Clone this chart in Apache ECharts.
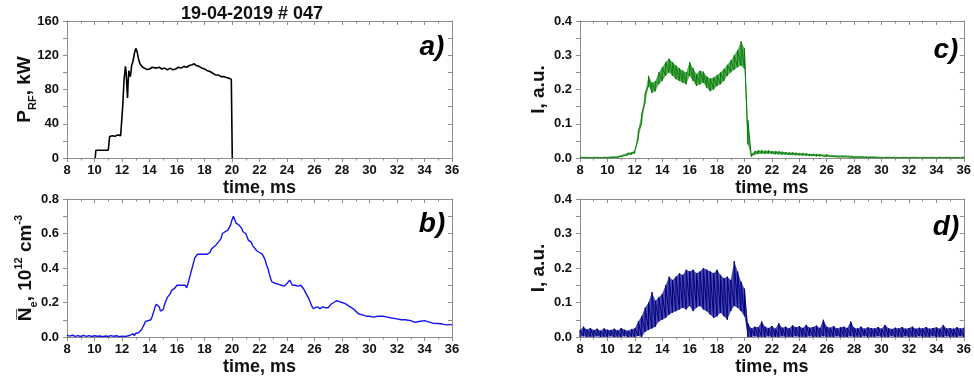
<!DOCTYPE html>
<html><head><meta charset="utf-8">
<script src="https://cdn.jsdelivr.net/npm/echarts@6.0.0/dist/echarts.min.js"></script>
<style>html,body{margin:0;padding:0;background:#fff}#chart{width:974px;height:383px}</style>
</head><body><div id="chart"></div>
<script>
// ---------- DATA ----------
const shotTitle = '19-04-2019 # 047';
const panelLetters = ['a)', 'b)', 'c)', 'd)'];
const timeRange = [8, 36];
const timeStep = 2;

// a) RF power, kW
const timeA = [10.05,10.1,10.5,11.0,11.05,11.1,11.3,11.5,11.7,11.9,12.0,12.05,12.15,12.25,12.3,12.35,12.4,12.45,12.5,12.55,12.6,12.65,12.7,12.8,12.9,13.0,13.05,13.1,13.2,13.3,13.4,13.5,13.6,13.8,14.0,14.2,14.3,14.5,14.7,14.9,15.1,15.3,15.5,15.7,15.9,16.1,16.3,16.5,16.7,16.9,17.1,17.25,17.4,17.6,17.8,18.0,18.2,18.4,18.6,18.8,19.0,19.2,19.4,19.6,19.8,19.95,20.0,20.02];
const powerA = [0,9,9,9,9.5,25,26,25.5,27,26,27,60,92,107,100,85,70,90,102,98,95,100,108,113,122,128,127,124,116,110,108,106,105,103.5,104,106,107,105,106,104,105,103,105,103,104,106,105,107,106,108,109,110,108,107,105,104,102,101,99,97,97,95,95,94,93,92,92,0];

// b) line-averaged density, 1e12 cm^-3
const timeB = [8.0,8.2,8.4,8.6,8.8,9.0,9.2,9.4,9.6,9.8,10.0,10.2,10.4,10.6,10.8,11.0,11.2,11.4,11.6,11.8,12.0,12.2,12.4,12.6,12.8,12.9,13.0,13.1,13.2,13.3,13.4,13.5,13.6,13.7,13.8,13.9,14.0,14.1,14.2,14.3,14.4,14.5,14.6,14.7,14.8,14.9,15.0,15.1,15.2,15.3,15.4,15.5,15.6,15.7,15.8,15.9,16.0,16.1,16.2,16.3,16.4,16.5,16.6,16.7,16.8,16.9,17.0,17.1,17.2,17.3,17.4,17.5,17.6,17.7,17.8,17.9,18.0,18.2,18.4,18.5,18.6,18.8,19.0,19.1,19.2,19.3,19.4,19.5,19.6,19.7,19.8,19.9,20.0,20.1,20.2,20.3,20.4,20.5,20.6,20.7,20.8,21.0,21.1,21.2,21.3,21.4,21.5,21.6,21.8,22.0,22.2,22.3,22.4,22.5,22.6,22.7,22.8,22.9,23.0,23.2,23.4,23.6,23.8,24.0,24.2,24.3,24.4,24.6,24.8,25.0,25.1,25.2,25.4,25.6,25.8,25.9,26.0,26.2,26.4,26.6,26.8,27.0,27.2,27.4,27.6,27.8,28.0,28.2,28.4,28.6,28.8,29.0,29.2,29.4,29.6,29.8,30.0,30.3,30.6,31.0,31.3,31.6,32.0,32.3,32.6,33.0,33.3,33.6,34.0,34.3,34.6,35.0,35.3,35.6,36.0];
const densityB = [0.01,0.005,0.01,0.004,0.008,0.003,0.009,0.004,0.008,0.003,0.007,0.004,0.006,0.002,0.006,0.003,0.008,0.004,0.007,0.002,0.005,0.003,0.006,0.01,0.02,0.008,0.022,0.012,0.025,0.018,0.04,0.055,0.07,0.09,0.1,0.095,0.105,0.1,0.12,0.145,0.175,0.19,0.19,0.175,0.15,0.14,0.16,0.19,0.21,0.23,0.24,0.25,0.27,0.275,0.28,0.29,0.3,0.295,0.3,0.29,0.3,0.31,0.3,0.285,0.31,0.34,0.37,0.4,0.43,0.46,0.47,0.48,0.47,0.48,0.47,0.48,0.475,0.48,0.49,0.51,0.52,0.53,0.55,0.54,0.57,0.6,0.6,0.61,0.6,0.62,0.63,0.65,0.68,0.7,0.68,0.66,0.67,0.65,0.64,0.63,0.61,0.6,0.58,0.56,0.56,0.55,0.53,0.52,0.5,0.49,0.48,0.47,0.45,0.42,0.4,0.37,0.34,0.32,0.315,0.31,0.305,0.3,0.295,0.31,0.33,0.32,0.3,0.3,0.295,0.3,0.29,0.28,0.25,0.22,0.18,0.165,0.17,0.175,0.165,0.175,0.17,0.17,0.19,0.2,0.21,0.205,0.2,0.195,0.185,0.175,0.165,0.15,0.135,0.13,0.125,0.12,0.12,0.115,0.12,0.12,0.115,0.11,0.105,0.1,0.1,0.095,0.085,0.09,0.095,0.088,0.08,0.078,0.075,0.07,0.072];

// c), d) emission intensity (noise envelope: low / high), a.u.
const timeCD = [
 8.00,8.25,8.50,8.75, 9.00,9.25,9.50,9.75, 10.00,10.25,10.50,10.75, 11.00,11.25,11.50,11.75,
 12.00,12.25,12.50,12.75, 13.00,13.25,13.50,13.75, 14.00,14.25,14.50,14.75, 15.00,15.25,15.50,15.75,
 16.00,16.25,16.50,16.75, 17.00,17.25,17.50,17.75, 18.00,18.25,18.50,18.75, 19.00,19.25,19.50,19.75,
 20.00,20.25,20.50,20.75, 21.00,21.25,21.50,21.75, 22.00,22.25,22.50,22.75, 23.00,23.25,23.50,23.75,
 24.00,24.25,24.50,24.75, 25.00,25.25,25.50,25.75, 26.00,26.25,26.50,26.75, 27.00,27.25,27.50,27.75,
 28.00,28.25,28.50,28.75, 29.00,29.25,29.50,29.75, 30.00,30.25,30.50,30.75, 31.00,31.25,31.50,31.75,
 32.00,32.25,32.50,32.75, 33.00,33.25,33.50,33.75, 34.00,34.25,34.50,34.75, 35.00,35.25,35.50,35.75,
 36.00];
const intensityCLow = [
 0.000,0.001,0.000,0.001, 0.000,0.001,0.000,0.001, 0.000,0.001,0.001,0.002, 0.004,0.007,0.009,0.010,
 0.014,0.055,0.100,0.160, 0.210,0.190,0.195,0.215, 0.225,0.240,0.250,0.240, 0.230,0.225,0.220,0.215,
 0.240,0.225,0.210,0.215, 0.220,0.205,0.195,0.200, 0.210,0.215,0.225,0.240, 0.250,0.258,0.265,0.270,
 0.260,0.040,0.004,0.010, 0.012,0.013,0.012,0.013, 0.012,0.011,0.011,0.010, 0.010,0.009,0.009,0.008,
 0.008,0.007,0.007,0.006, 0.006,0.005,0.005,0.005, 0.004,0.004,0.004,0.003, 0.003,0.003,0.003,0.002,
 0.002,0.002,0.002,0.002, 0.001,0.001,0.001,0.001, 0.001,0.000,0.001,0.000, 0.001,0.000,0.001,0.000,
 0.000,0.001,0.000,0.001, 0.000,0.001,0.000,0.001, 0.000,0.001,0.000,0.001, 0.000,0.001,0.000,0.001,
 0.000];
const intensityCHigh = [
 0.004,0.004,0.004,0.003, 0.004,0.004,0.003,0.004, 0.004,0.005,0.005,0.006, 0.009,0.012,0.015,0.016,
 0.022,0.080,0.130,0.190, 0.240,0.220,0.225,0.250, 0.265,0.280,0.290,0.280, 0.270,0.262,0.255,0.250,
 0.280,0.262,0.245,0.255, 0.252,0.238,0.232,0.235, 0.242,0.250,0.260,0.272, 0.285,0.300,0.315,0.340,
 0.320,0.110,0.012,0.020, 0.022,0.022,0.021,0.022, 0.020,0.020,0.019,0.018, 0.017,0.016,0.016,0.015,
 0.014,0.014,0.013,0.012, 0.012,0.011,0.011,0.010, 0.010,0.009,0.009,0.008, 0.008,0.008,0.007,0.007,
 0.006,0.006,0.006,0.005, 0.005,0.005,0.005,0.004, 0.004,0.004,0.004,0.004, 0.004,0.003,0.004,0.004,
 0.003,0.004,0.004,0.003, 0.004,0.003,0.004,0.004, 0.003,0.004,0.003,0.004, 0.004,0.003,0.004,0.003,
 0.004];
const intensityDLow = [
 0.000,0.002,0.000,0.001, 0.000,0.002,0.000,0.001, 0.000,0.002,0.000,0.001, 0.000,0.002,0.000,0.001,
 0.000,0.003,0.000,0.015, 0.020,0.025,0.030,0.045, 0.050,0.055,0.065,0.070, 0.075,0.080,0.085,0.080,
 0.090,0.075,0.085,0.090, 0.080,0.075,0.065,0.055, 0.060,0.070,0.060,0.050, 0.075,0.090,0.085,0.075,
 0.060,0.000,0.000,0.002, 0.000,0.001,0.000,0.002, 0.000,0.001,0.000,0.002, 0.000,0.001,0.000,0.002,
 0.000,0.001,0.000,0.002, 0.000,0.001,0.000,0.002, 0.000,0.001,0.000,0.002, 0.000,0.001,0.000,0.002,
 0.000,0.001,0.000,0.002, 0.000,0.001,0.000,0.002, 0.000,0.001,0.000,0.002, 0.000,0.001,0.000,0.002,
 0.000,0.001,0.000,0.002, 0.000,0.001,0.000,0.002, 0.000,0.001,0.000,0.002, 0.000,0.001,0.000,0.002,
 0.000];
const intensityDHigh = [
 0.020,0.030,0.022,0.026, 0.020,0.024,0.018,0.025, 0.021,0.020,0.024,0.019, 0.026,0.021,0.018,0.023,
 0.025,0.045,0.060,0.085, 0.100,0.130,0.105,0.115, 0.125,0.150,0.175,0.165, 0.175,0.185,0.180,0.195,
 0.190,0.195,0.185,0.190, 0.200,0.195,0.190,0.185, 0.195,0.180,0.170,0.175, 0.165,0.220,0.190,0.160,
 0.140,0.040,0.025,0.030, 0.028,0.045,0.030,0.026, 0.032,0.024,0.040,0.027, 0.030,0.025,0.034,0.028,
 0.031,0.026,0.035,0.027, 0.029,0.033,0.026,0.050, 0.030,0.027,0.032,0.025, 0.028,0.030,0.026,0.045,
 0.027,0.025,0.030,0.024, 0.028,0.026,0.025,0.029, 0.024,0.035,0.026,0.023, 0.027,0.025,0.029,0.024,
 0.026,0.030,0.024,0.027, 0.025,0.029,0.024,0.026, 0.028,0.024,0.035,0.025, 0.026,0.024,0.028,0.025,
 0.027];

// ---------- BUILD ----------
const FONT = '"Liberation Sans", Arial, sans-serif';
const AX = '#8c8c8c';
const TXT = '#111';
const pairs = (t, v) => t.map((x, i) => [x, v[i]]);
const zig = (t, lo, hi) => { const o = []; t.forEach((x, i) => { o.push([x, lo[i]]); o.push([x, hi[i]]); }); return o; };

const grids = [
  { left: 67, top: 21, width: 385, height: 137 },
  { left: 67, top: 199, width: 385, height: 138 },
  { left: 580, top: 21, width: 387, height: 137 },
  { left: 580, top: 199, width: 387, height: 138 }
];

const yCfg = [
  { min: 0, max: 160, interval: 40, fmt: v => String(v), gap: 29,
    name: '{m|P}{s|RF}{m|, kW}' },
  { min: 0, max: 0.8, interval: 0.2, fmt: v => v.toFixed(1), gap: 28,
    name: '{m|N\u0305}{s|e}{m|, 10}{p|12}{m| cm}{p|-3}' },
  { min: 0, max: 0.4, interval: 0.1, fmt: v => v.toFixed(1), gap: 28, name: '{m|I, a.u.}' },
  { min: 0, max: 0.4, interval: 0.1, fmt: v => v.toFixed(1), gap: 28, name: '{m|I, a.u.}' }
];

const richName = {
  m: { fontFamily: FONT, fontWeight: 'bold', fontSize: 19, color: TXT, lineHeight: 26 },
  s: { fontFamily: FONT, fontWeight: 'bold', fontSize: 11, color: TXT, lineHeight: 12, verticalAlign: 'bottom' },
  p: { fontFamily: FONT, fontWeight: 'bold', fontSize: 11, color: TXT, lineHeight: 12, verticalAlign: 'top' }
};

const xAxis = [], yAxis = [];
grids.forEach((g, i) => {
  xAxis.push({
    gridIndex: i, type: 'value', position: 'bottom', min: timeRange[0], max: timeRange[1], interval: timeStep,
    axisLine: { show: true, onZero: false, lineStyle: { color: AX, width: 1 } },
    axisTick: { show: true, inside: false, length: 4, lineStyle: { color: AX } },
    minorTick: { show: true, splitNumber: 2, length: 2.5, lineStyle: { color: AX } },
    axisLabel: { fontFamily: FONT, fontWeight: 'bold', fontSize: 13, color: TXT, margin: 6 },
    splitLine: { show: false },
    name: 'time, ms', nameLocation: 'middle', nameGap: 21, nameMoveOverlap: false,
    nameTextStyle: { fontFamily: FONT, fontWeight: 'bold', fontSize: 18, color: TXT }
  });
  xAxis.push({
    gridIndex: i, type: 'value', position: 'top', min: timeRange[0], max: timeRange[1], interval: timeStep,
    axisLine: { show: true, onZero: false, lineStyle: { color: AX, width: 1 } },
    axisTick: { show: true, inside: true, length: 4, lineStyle: { color: AX } },
    minorTick: { show: true, splitNumber: 2, length: 2.5, lineStyle: { color: AX } },
    axisLabel: { show: false }, splitLine: { show: false }
  });
  const c = yCfg[i];
  yAxis.push({
    gridIndex: i, type: 'value', position: 'left', min: c.min, max: c.max, interval: c.interval,
    axisLine: { show: true, onZero: false, lineStyle: { color: AX, width: 1 } },
    axisTick: { show: true, inside: false, length: 4, lineStyle: { color: AX } },
    minorTick: { show: true, splitNumber: 2, length: 4, lineStyle: { color: AX } },
    axisLabel: { fontFamily: FONT, fontWeight: 'bold', fontSize: 13, color: TXT, margin: 8, formatter: c.fmt },
    splitLine: { show: false },
    name: c.name, nameLocation: 'middle', nameGap: c.gap, nameRotate: 90, nameMoveOverlap: false,
    nameTextStyle: { rich: richName }
  });
  yAxis.push({
    gridIndex: i, type: 'value', position: 'right', min: c.min, max: c.max, interval: c.interval,
    axisLine: { show: true, onZero: false, lineStyle: { color: AX, width: 1 } },
    axisTick: { show: true, inside: true, length: 4, lineStyle: { color: AX } },
    minorTick: { show: true, splitNumber: 2, length: 4, lineStyle: { color: AX } },
    axisLabel: { show: false }, splitLine: { show: false }
  });
});

function bandSeries(axisIdx, lo, hi, color, opacity) {
  return {
    type: 'custom', xAxisIndex: axisIdx, yAxisIndex: axisIdx, silent: true, animation: false,
    clip: true, data: [[timeCD[0], lo[0]]],
    renderItem: function (params, api) {
      const pts = [];
      for (let i = 0; i < timeCD.length; i++) pts.push(api.coord([timeCD[i], hi[i]]));
      for (let i = timeCD.length - 1; i >= 0; i--) pts.push(api.coord([timeCD[i], lo[i]]));
      return { type: 'polygon', shape: { points: pts }, style: { fill: color, opacity: opacity } };
    }
  };
}

const base = { type: 'line', showSymbol: false, symbol: 'none', animation: false, silent: true, sampling: null };
const series = [
  Object.assign({}, base, { xAxisIndex: 0, yAxisIndex: 0, data: pairs(timeA, powerA),
    lineStyle: { color: '#000', width: 1.6 } }),
  Object.assign({}, base, { xAxisIndex: 2, yAxisIndex: 2, data: pairs(timeB, densityB),
    lineStyle: { color: '#1414f0', width: 1.4 } }),
  bandSeries(4, intensityCLow, intensityCHigh, '#1d8f1d', 0.75),
  Object.assign({}, base, { xAxisIndex: 4, yAxisIndex: 4, data: zig(timeCD, intensityCLow, intensityCHigh),
    lineStyle: { color: '#0a7d0a', width: 1 } }),
  bandSeries(6, intensityDLow, intensityDHigh, '#1c1c98', 0.8),
  Object.assign({}, base, { xAxisIndex: 6, yAxisIndex: 6, data: zig(timeCD, intensityDLow, intensityDHigh),
    lineStyle: { color: '#000080', width: 1 } })
];

const letterPos = [[432, 47], [432, 224], [946, 50], [946, 227]];
const graphic = [
  { type: 'text', x: 252, y: 14, style: { text: shotTitle, font: 'bold 18px ' + FONT, fill: TXT, align: 'center', verticalAlign: 'middle' } }
];
panelLetters.forEach((L, i) => {
  graphic.push({ type: 'text', x: letterPos[i][0], y: letterPos[i][1],
    style: { text: L, font: 'italic bold 28px ' + FONT, fill: '#000', align: 'center', verticalAlign: 'middle' } });
});

const chart = echarts.init(document.getElementById('chart'), null, { renderer: 'canvas' });
chart.setOption({
  animation: false,
  backgroundColor: '#fff',
  grid: grids,
  xAxis: xAxis,
  yAxis: yAxis,
  series: series,
  graphic: graphic
});
</script></body></html>
